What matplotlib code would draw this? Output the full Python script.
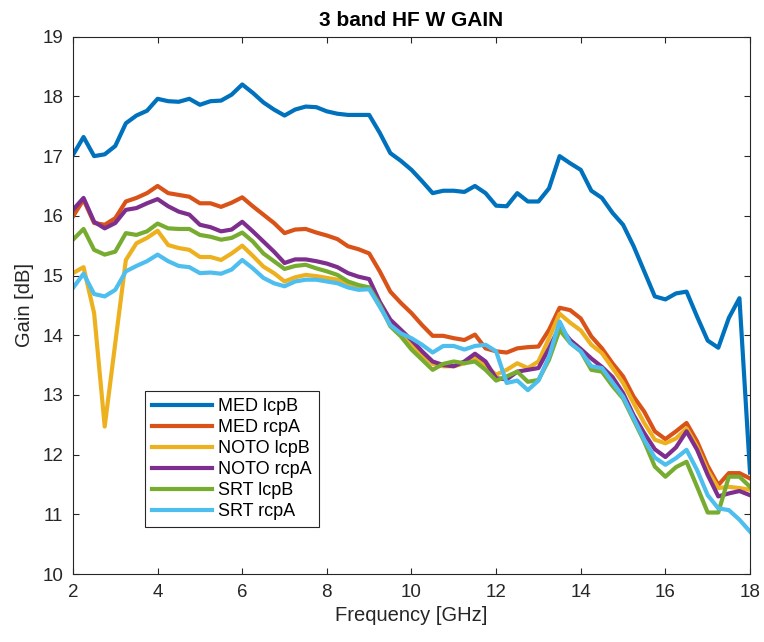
import numpy as np
import matplotlib
matplotlib.use('Agg')
import matplotlib.pyplot as plt

# 频率 (GHz), 每 0.25 GHz 一个点
freq = np.arange(2.0, 18.001, 0.25)

# 各天线增益 (dB)
med_lcpB = [17.02, 17.32, 17.00, 17.03, 17.17, 17.55, 17.68, 17.76, 17.96, 17.92,
            17.91, 17.96, 17.86, 17.92, 17.93, 18.03, 18.20, 18.06, 17.90, 17.78,
            17.68, 17.78, 17.83, 17.82, 17.75, 17.71, 17.69, 17.69, 17.69, 17.39,
            17.05, 16.92, 16.77, 16.58, 16.38, 16.42, 16.42, 16.40, 16.50, 16.38,
            16.17, 16.16, 16.38, 16.24, 16.24, 16.46, 17.00, 16.88, 16.77, 16.42,
            16.30, 16.05, 15.85, 15.49, 15.07, 14.65, 14.60, 14.70, 14.73, 14.31,
            13.91, 13.79, 14.29, 14.62, 11.70]
med_rcpA = [15.99, 16.27, 15.88, 15.85, 15.96, 16.24, 16.30, 16.38, 16.50, 16.38,
            16.35, 16.32, 16.21, 16.21, 16.15, 16.22, 16.31, 16.16, 16.02, 15.88,
            15.71, 15.77, 15.78, 15.72, 15.67, 15.61, 15.49, 15.44, 15.37, 15.07,
            14.73, 14.54, 14.37, 14.17, 13.99, 13.99, 13.95, 13.92, 14.01, 13.78,
            13.73, 13.71, 13.78, 13.80, 13.81, 14.09, 14.46, 14.42, 14.28, 13.98,
            13.78, 13.53, 13.31, 12.97, 12.72, 12.39, 12.26, 12.39, 12.53, 12.22,
            11.81, 11.49, 11.69, 11.69, 11.60]
noto_lcpB = [15.04, 15.14, 14.37, 12.47, 13.87, 15.26, 15.54, 15.63, 15.75, 15.51,
             15.46, 15.43, 15.31, 15.31, 15.26, 15.37, 15.50, 15.33, 15.15, 15.04,
             14.90, 14.97, 15.01, 14.99, 14.96, 14.93, 14.86, 14.82, 14.80, 14.48,
             14.20, 14.00, 13.84, 13.67, 13.52, 13.48, 13.48, 13.53, 13.62, 13.48,
             13.34, 13.42, 13.53, 13.45, 13.56, 13.95, 14.36, 14.21, 14.08, 13.84,
             13.70, 13.45, 13.20, 12.86, 12.53, 12.25, 12.19, 12.27, 12.44, 12.13,
             11.73, 11.44, 11.46, 11.44, 11.41]
noto_rcpA = [16.10, 16.30, 15.90, 15.79, 15.88, 16.10, 16.13, 16.21, 16.28, 16.16,
             16.07, 16.02, 15.85, 15.81, 15.74, 15.77, 15.90, 15.74, 15.57, 15.40,
             15.21, 15.27, 15.27, 15.24, 15.20, 15.14, 15.04, 14.98, 14.94, 14.56,
             14.26, 14.09, 13.92, 13.73, 13.56, 13.50, 13.48, 13.56, 13.69, 13.56,
             13.28, 13.26, 13.39, 13.42, 13.45, 13.78, 14.14, 13.92, 13.77, 13.61,
             13.47, 13.30, 13.03, 12.66, 12.36, 12.09, 11.96, 12.12, 12.39, 12.08,
             11.66, 11.30, 11.35, 11.39, 11.32]
srt_lcpB = [15.60, 15.78, 15.43, 15.35, 15.40, 15.71, 15.68, 15.74, 15.87, 15.79,
            15.78, 15.78, 15.68, 15.65, 15.60, 15.63, 15.72, 15.57, 15.37, 15.24,
            15.11, 15.16, 15.18, 15.12, 15.07, 15.01, 14.90, 14.84, 14.80, 14.51,
            14.15, 13.98, 13.76, 13.59, 13.42, 13.52, 13.56, 13.53, 13.56, 13.42,
            13.24, 13.31, 13.39, 13.22, 13.25, 13.59, 14.09, 13.87, 13.73, 13.42,
            13.39, 13.15, 12.94, 12.58, 12.22, 11.80, 11.63, 11.79, 11.88, 11.46,
            11.03, 11.03, 11.63, 11.63, 11.46]
srt_rcpA = [14.79, 15.03, 14.69, 14.65, 14.76, 15.07, 15.16, 15.24, 15.35, 15.24,
            15.16, 15.14, 15.04, 15.05, 15.03, 15.10, 15.26, 15.12, 14.96, 14.87,
            14.82, 14.90, 14.93, 14.93, 14.90, 14.87, 14.80, 14.76, 14.77, 14.48,
            14.17, 14.03, 13.95, 13.84, 13.71, 13.82, 13.82, 13.76, 13.82, 13.84,
            13.73, 13.20, 13.24, 13.08, 13.24, 13.64, 14.23, 13.87, 13.73, 13.48,
            13.45, 13.21, 12.97, 12.61, 12.25, 11.95, 11.83, 11.94, 12.08, 11.74,
            11.32, 11.10, 11.07, 10.91, 10.71]

labels = ['MED lcpB', 'MED rcpA', 'NOTO lcpB', 'NOTO rcpA', 'SRT lcpB', 'SRT rcpA']
series = [med_lcpB, med_rcpA, noto_lcpB, noto_rcpA, srt_lcpB, srt_rcpA]
# MATLAB 默认配色
colors = ['#0072BD', '#D95319', '#EDB120', '#7E2F8E', '#77AC30', '#4DBEEE']

plt.rcParams['font.family'] = ['Liberation Sans', 'DejaVu Sans']
text_color = '#262626'

fig = plt.figure(figsize=(7.64, 6.42), dpi=100)
ax = fig.add_axes([0.0955, 0.1059, 0.8862, 0.8369])

for y, c, lab in zip(series, colors, labels):
    ax.plot(freq, y, color=c, linewidth=3.0, label=lab)

ax.set_xlim(2, 18)
ax.set_ylim(10, 19)
ax.set_xticks(np.arange(2, 19, 2))
ax.set_yticks(np.arange(10, 20, 1))
ax.tick_params(direction='in', top=True, right=True, length=4.5, width=0.8,
               labelsize=13.5, colors=text_color, pad=7)
for sp in ax.spines.values():
    sp.set_color(text_color)
    sp.set_linewidth(0.8)

ax.set_title('3 band HF W GAIN', fontsize=15, fontweight='bold', color='black', pad=8)
ax.set_xlabel('Frequency [GHz]', fontsize=14.5, color=text_color, labelpad=4)
ax.set_ylabel('Gain [dB]', fontsize=14.5, color=text_color, labelpad=6)

leg = ax.legend(loc='lower left', bbox_to_anchor=(0.106, 0.087), borderaxespad=0,
                fontsize=13, handlelength=3.3, handletextpad=0.35, labelspacing=0.22,
                fancybox=False, framealpha=1, edgecolor=text_color, borderpad=0.4)
leg.get_frame().set_linewidth(0.8)

plt.savefig('out.png', dpi=100)
